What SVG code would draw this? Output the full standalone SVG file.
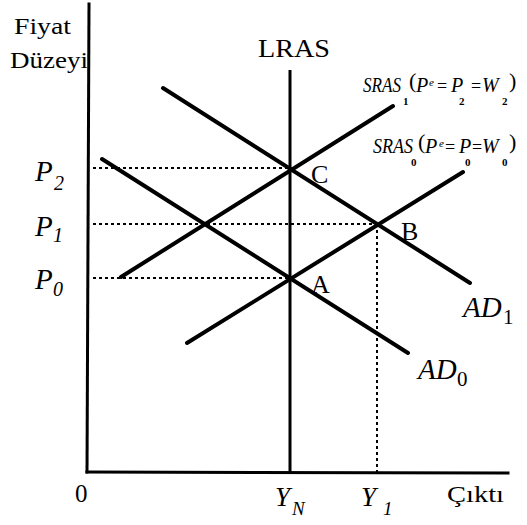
<svg xmlns="http://www.w3.org/2000/svg" width="527" height="525" viewBox="0 0 527 525">
<style>
.ax{stroke:#000;stroke-width:3;fill:none;stroke-linecap:square}
.cv{stroke:#000;stroke-width:4;fill:none;stroke-linecap:round}
.dt{stroke:#000;stroke-width:2;fill:none;stroke-dasharray:3,3}
text{font-family:'Liberation Serif','Times New Roman',serif;fill:#000}
.it{font-style:italic}
.sl{font-style:italic;font-size:20px}
.sb{font-size:11px;font-weight:bold}
.eq{font-size:18px}
.pr{font-size:22px}
</style>
<rect width="527" height="525" fill="#fff"/>
<g id="axes">
<line class="ax" x1="89" y1="4" x2="87" y2="472"/>
<line class="ax" x1="87" y1="472" x2="508" y2="473"/>
</g>
<g id="connectors">
<line class="dt" x1="93" y1="168" x2="290" y2="168"/>
<line class="dt" x1="93" y1="224" x2="377" y2="224"/>
<line class="dt" x1="93" y1="278" x2="290" y2="278"/>
<line class="dt" x1="377" y1="224" x2="377" y2="472"/>
</g>
<g id="LRAS">
<line x1="290" y1="70" x2="290" y2="474" stroke="#000" stroke-width="3"/>
<text x="294" y="57" font-size="26" text-anchor="middle" textLength="72" lengthAdjust="spacingAndGlyphs">LRAS</text>
</g>
<g id="AD0">
<line class="cv" x1="102" y1="159" x2="408" y2="353"/>
<text class="it" x="418" y="379" font-size="29">AD</text>
<text x="457" y="386" font-size="21">0</text>
</g>
<g id="AD1">
<line class="cv" x1="163" y1="88" x2="470" y2="283"/>
<text class="it" x="463" y="317" font-size="29">AD</text>
<text x="503" y="324" font-size="21">1</text>
</g>
<g id="SRAS1">
<line class="cv" x1="121" y1="277" x2="393" y2="106"/>
<text class="sl" y="92"><tspan x="363" textLength="38" lengthAdjust="spacingAndGlyphs">SRAS</tspan></text>
<text class="sb" x="403" y="105">1</text>
<text class="pr" x="409" y="88">(</text>
<text class="sl" x="416" y="92">P</text>
<text class="it" font-size="11" x="429" y="86">e</text>
<text class="eq" x="437" y="92">=</text>
<text class="sl" x="451" y="92">P</text>
<text class="sb" x="459" y="105">2</text>
<text class="eq" x="471" y="92">=</text>
<text class="sl" x="482" y="92">W</text>
<text class="sb" x="502" y="105">2</text>
<text class="pr" x="509" y="88">)</text>
</g>
<g id="SRAS0">
<line class="cv" x1="187" y1="343" x2="463" y2="172"/>
<text class="sl" y="153"><tspan x="373" textLength="40" lengthAdjust="spacingAndGlyphs">SRAS</tspan></text>
<text class="sb" x="411" y="166">0</text>
<text class="pr" x="418" y="149">(</text>
<text class="sl" x="425" y="153">P</text>
<text class="it" font-size="11" x="439" y="147">e</text>
<text class="eq" x="445" y="153">=</text>
<text class="sl" x="459" y="153">P</text>
<text class="sb" x="465" y="166">0</text>
<text class="eq" x="472" y="153">=</text>
<text class="sl" x="482" y="153">W</text>
<text class="sb" x="502" y="166">0</text>
<text class="pr" x="509" y="149">)</text>
</g>
<g id="pointC"><text x="311" y="183" font-size="26">C</text></g>
<g id="pointB"><text x="401" y="240" font-size="26">B</text></g>
<g id="pointA"><text x="311" y="293" font-size="26">A</text></g>
<g id="ylabels">
<text x="14" y="34" font-size="24" textLength="57" lengthAdjust="spacingAndGlyphs">Fiyat</text>
<text x="10" y="68" font-size="24" textLength="78" lengthAdjust="spacingAndGlyphs">Düzeyi</text>
<text class="it" x="35" y="181" font-size="29">P</text>
<text class="it" x="54" y="190" font-size="20">2</text>
<text class="it" x="35" y="236" font-size="29">P</text>
<text class="it" x="53" y="242" font-size="20">1</text>
<text class="it" x="35" y="289" font-size="29">P</text>
<text class="it" x="53" y="296" font-size="20">0</text>
</g>
<g id="xlabels">
<text x="75" y="502" font-size="25">0</text>
<text class="it" x="275" y="506" font-size="27">Y</text>
<text class="it" x="292" y="515" font-size="19">N</text>
<text class="it" x="361" y="506" font-size="27">Y</text>
<text class="it" x="383" y="515" font-size="19">1</text>
<text x="447" y="502" font-size="24" textLength="57" lengthAdjust="spacingAndGlyphs">Çıktı</text>
</g>
</svg>
